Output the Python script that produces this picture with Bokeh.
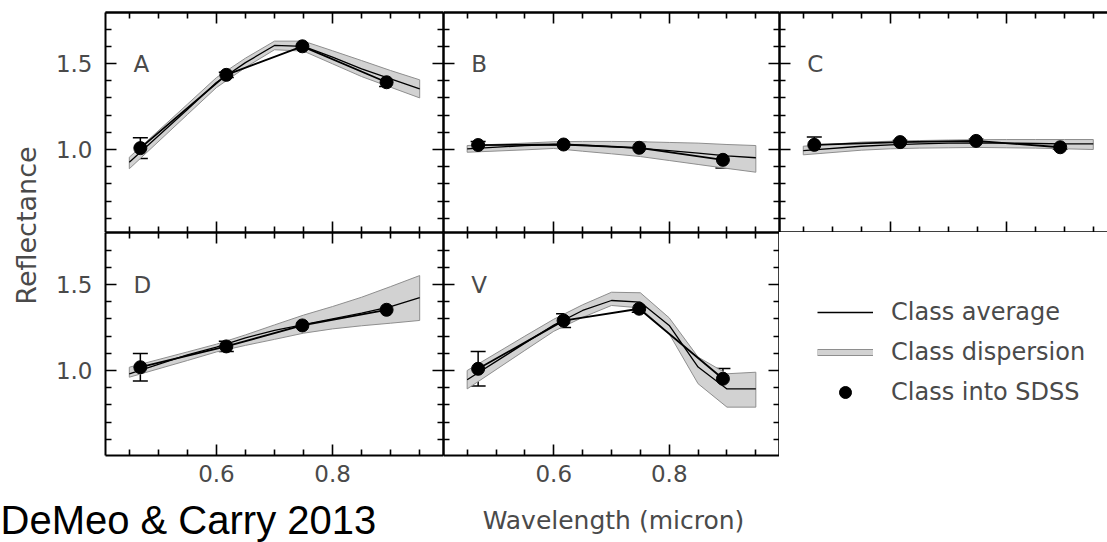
import math
from bokeh.plotting import figure
from bokeh.models import (Range1d, LinearAxis, FixedTicker, Label, Whisker, TeeHead,
                          ColumnDataSource, Legend, LegendItem, NumeralTickFormatter)
from bokeh.layouts import row, column
from bokeh.embed import file_html
from bokeh.resources import INLINE

# ---------------- data ----------------
WL = [0.45, 0.55, 0.60, 0.65, 0.70, 0.75, 0.80, 0.85, 0.90, 0.95]
SDSS_WL = [0.469, 0.617, 0.748, 0.893]

A_mean = [0.926, 1.233, 1.390, 1.505, 1.605, 1.600, 1.537, 1.469, 1.411, 1.353]
A_hi   = [0.955, 1.263, 1.418, 1.531, 1.630, 1.630, 1.574, 1.517, 1.459, 1.405]
A_lo   = [0.888, 1.203, 1.360, 1.477, 1.580, 1.572, 1.498, 1.424, 1.362, 1.300]
A_sdss = [1.008, 1.434, 1.600, 1.391]
A_err  = [0.060, 0.015, 0.010, 0.025]

B_mean = [1.004, 1.023, 1.029, 1.025, 1.017, 1.006, 0.994, 0.979, 0.963, 0.952]
B_hi   = [1.023, 1.037, 1.045, 1.047, 1.047, 1.045, 1.041, 1.037, 1.029, 1.023]
B_lo   = [0.984, 0.998, 1.006, 0.990, 0.975, 0.959, 0.936, 0.913, 0.890, 0.868]
B_sdss = [1.026, 1.029, 1.010, 0.940]
B_err  = [0.020, 0.010, 0.030, 0.048]

C_mean = [0.994, 1.019, 1.027, 1.033, 1.037, 1.039, 1.037, 1.035, 1.033, 1.033]
C_hi   = [1.019, 1.043, 1.048, 1.052, 1.055, 1.057, 1.058, 1.058, 1.058, 1.058]
C_lo   = [0.969, 0.996, 1.004, 1.008, 1.010, 1.012, 1.010, 1.008, 1.004, 1.000]
C_sdss = [1.027, 1.043, 1.050, 1.013]
C_err  = [0.045, 0.010, 0.010, 0.010]

D_mean = [0.981, 1.091, 1.136, 1.190, 1.233, 1.267, 1.300, 1.333, 1.372, 1.423]
D_hi   = [1.019, 1.108, 1.153, 1.207, 1.265, 1.322, 1.372, 1.426, 1.488, 1.552]
D_lo   = [0.961, 1.058, 1.108, 1.146, 1.181, 1.217, 1.242, 1.260, 1.275, 1.291]
D_sdss = [1.019, 1.140, 1.262, 1.353]
D_err  = [0.080, 0.030, 0.020, 0.060]

V_mean = [0.946, 1.159, 1.264, 1.349, 1.407, 1.397, 1.262, 1.020, 0.893, 0.893]
V_hi   = [1.000, 1.200, 1.298, 1.382, 1.455, 1.452, 1.306, 1.078, 0.981, 0.990]
V_lo   = [0.893, 1.117, 1.228, 1.309, 1.378, 1.364, 1.213, 0.923, 0.787, 0.787]
V_sdss = [1.010, 1.290, 1.359, 0.952]
V_err  = [0.100, 0.040, 0.020, 0.060]

X_MAJOR = [0.6, 0.8]
X_MINOR = [0.45, 0.5, 0.55, 0.65, 0.7, 0.75, 0.85, 0.9, 0.95]
Y_MAJOR = [1.0, 1.5]
Y_MINOR = [0.6, 0.7, 0.8, 0.9, 1.1, 1.2, 1.3, 1.4, 1.6, 1.7]

LEGEND_LABELS = ["Class average", "Class dispersion", "Class into SDSS"]
X_LABEL = "Wavelength (micron)"
Y_LABEL = "Reflectance"
CREDIT = "DeMeo & Carry 2013"

# ---------------- style ----------------
TXT = "#4a4a4a"
FONT = "DejaVu Sans"
BAND_FILL = "#d2d2d2"
BAND_LINE = "#8e8e8e"
NAN = float("nan")


def tick_axis(minor, length):
    # axis that only draws ticks (no labels): ticks given as "minor" ticks
    return LinearAxis(ticker=FixedTicker(ticks=[], minor_ticks=minor),
                      major_tick_in=0, major_tick_out=0,
                      minor_tick_in=length, minor_tick_out=0,
                      major_label_standoff=0,
                      axis_line_color="black", axis_line_width=2,
                      minor_tick_line_color="black", minor_tick_line_width=1.6)


def add_axis(p, side, dim, labels, standoff=10):
    major = X_MAJOR if dim == "x" else Y_MAJOR
    minor = X_MINOR if dim == "x" else Y_MINOR
    if labels:
        ax = LinearAxis(ticker=FixedTicker(ticks=major, minor_ticks=minor),
                        formatter=NumeralTickFormatter(format="0.0"),
                        major_tick_in=11, major_tick_out=0,
                        minor_tick_in=6, minor_tick_out=0,
                        axis_line_color="black", axis_line_width=2,
                        major_tick_line_color="black", major_tick_line_width=1.6,
                        minor_tick_line_color="black", minor_tick_line_width=1.6,
                        major_label_text_font=FONT, major_label_text_font_size="23px",
                        major_label_text_color=TXT, major_label_standoff=standoff)
        p.add_layout(ax, side)
    else:
        p.add_layout(tick_axis(minor, 6), side)
        p.add_layout(tick_axis(major, 11), side)


def make_panel(letter, mean, hi, lo, sdss, err, xr, yr, fw, fh,
               bl, bt, bb, left_labels, bottom_labels, right_axis=True):
    p = figure(x_range=Range1d(*xr), y_range=Range1d(*yr),
               frame_width=fw, frame_height=fh,
               x_axis_type=None, y_axis_type=None,
               min_border_left=bl, min_border_right=0,
               min_border_top=bt, min_border_bottom=bb,
               output_backend="svg", toolbar_location=None,
               outline_line_color=None,
               background_fill_color="white", border_fill_color="white")
    add_axis(p, "left", "y", left_labels, standoff=13)
    add_axis(p, "below", "x", bottom_labels, standoff=9)
    add_axis(p, "above", "x", False)
    if right_axis:
        add_axis(p, "right", "y", False)

    # dispersion band
    p.patch(WL + WL[::-1], hi + lo[::-1], fill_color=BAND_FILL,
            line_color=BAND_LINE, line_width=1)
    # class average
    p.line(WL, mean, line_color="black", line_width=1.3)
    # class into SDSS
    src = ColumnDataSource(dict(x=SDSS_WL, y=sdss,
                                up=[v + e for v, e in zip(sdss, err)],
                                lo=[v - e for v, e in zip(sdss, err)]))
    p.line("x", "y", source=src, line_color="black", line_width=1.8)
    p.add_layout(Whisker(base="x", upper="up", lower="lo", source=src,
                         dimension="height", line_color="black", line_width=1.5,
                         upper_head=TeeHead(size=15, line_color="black", line_width=1.5),
                         lower_head=TeeHead(size=15, line_color="black", line_width=1.5)))
    p.scatter("x", "y", source=src, size=13, color="black")

    p.add_layout(Label(x=0.457, y=1.5, text=letter, text_font=FONT,
                       text_font_size="23px", text_color=TXT,
                       text_baseline="alphabetic"))
    return p


XR = (0.409, 0.991)
XR_C = (0.409, 0.409 + 328 / 580.0)
YR_TOP = (1.0 - 83 / 172.0, 1.0 + 137 / 172.0)
YR_BOT = (1.0 - 85 / 172.0, 1.0 + 138 / 172.0)

pA = make_panel("A", A_mean, A_hi, A_lo, A_sdss, A_err, XR, YR_TOP, 338, 220, 55, 12, 0, True, False)
pB = make_panel("B", B_mean, B_hi, B_lo, B_sdss, B_err, XR, YR_TOP, 336, 220, 0, 12, 0, False, False)
pC = make_panel("C", C_mean, C_hi, C_lo, C_sdss, C_err, XR_C, YR_TOP, 328, 220, 0, 12, 0, False, False,
                right_axis=False)
pD = make_panel("D", D_mean, D_hi, D_lo, D_sdss, D_err, XR, YR_BOT, 338, 223, 55, 0, 41, True, True)
pV = make_panel("V", V_mean, V_hi, V_lo, V_sdss, V_err, XR, YR_BOT, 336, 223, 0, 0, 41, False, True)


def blank(w, h):
    p = figure(x_range=Range1d(0, 1), y_range=Range1d(0, 1),
               frame_width=w, frame_height=h,
               x_axis_type=None, y_axis_type=None,
               min_border_left=0, min_border_right=0,
               min_border_top=0, min_border_bottom=0,
               output_backend="svg", toolbar_location=None,
               outline_line_color=None,
               background_fill_color="white", border_fill_color="white")
    return p


# legend panel
pL = blank(328, 264)
r_avg = pL.line(x=[NAN], y=[NAN], line_color="black", line_width=1.5)
r_disp_out = pL.line(x=[NAN], y=[NAN], line_color=BAND_LINE, line_width=7)
r_disp_in = pL.line(x=[NAN], y=[NAN], line_color=BAND_FILL, line_width=5)
r_dot = pL.scatter(x=[NAN], y=[NAN], size=12, color="black")
leg = Legend(items=[LegendItem(label=LEGEND_LABELS[0], renderers=[r_avg]),
                    LegendItem(label=LEGEND_LABELS[1], renderers=[r_disp_out, r_disp_in]),
                    LegendItem(label=LEGEND_LABELS[2], renderers=[r_dot])],
             location=(38, 89), glyph_width=56, glyph_height=30, spacing=10,
             padding=0, margin=0, label_standoff=18,
             label_text_font=FONT, label_text_font_size="24px", label_text_color=TXT,
             border_line_color=None, background_fill_alpha=0)
pL.add_layout(leg, "center")

# left strip with y label
pY = blank(50, 496)
pY.add_layout(Label(x=26, y=271, x_units="screen", y_units="screen", text=Y_LABEL,
                    angle=math.pi / 2, text_align="center", text_baseline="middle",
                    text_font=FONT, text_font_size="27px", text_color=TXT))

# bottom strip with credit and x label
pT = blank(1107, 46)
pT.add_layout(Label(x=0, y=23, x_units="screen", y_units="screen", text=CREDIT,
                    text_align="left", text_baseline="alphabetic",
                    text_font="Liberation Sans", text_font_size="40px", text_color="black"))
pT.add_layout(Label(x=613, y=22, x_units="screen", y_units="screen", text=X_LABEL,
                    text_align="center", text_baseline="alphabetic",
                    text_font=FONT, text_font_size="25px", text_color=TXT))

layout = column(row(pY, column(row(pA, pB, pC), row(pD, pV, pL))), pT)

with open("out.html", "w") as f:
    f.write(file_html(layout, INLINE))
